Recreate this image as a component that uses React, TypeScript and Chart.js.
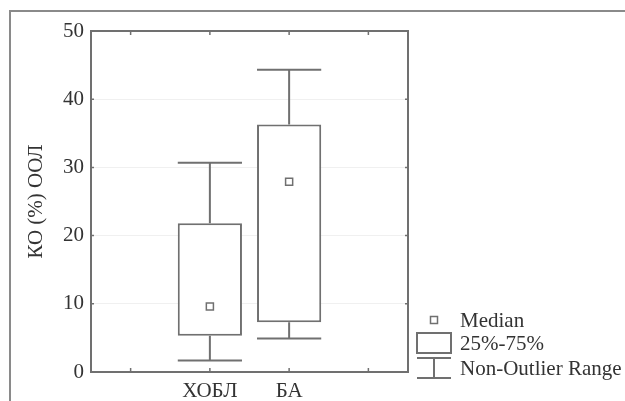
import React, { useEffect, useRef } from "react";
import { Chart, registerables } from "chart.js";

Chart.register(...registerables);

const categories = ["", "ХОБЛ", "БА", ""];
const q1 = [null, 5.3, 7.3, null];
const q3 = [null, 21.8, 36.3, null];
const medians = [null, 9.6, 27.9, null];
const whiskerLow = [null, 1.7, 4.9, null];
const whiskerHigh = [null, 30.7, 44.3, null];
const yTickValues = [0, 10, 20, 30, 40, 50];
const yTitle = "КО (%) ООЛ";
const legendLabels = ["Median", "25%-75%", "Non-Outlier Range"];

const LINE = "#707070";
const TEXT = "#333333";
const FONT = "Liberation Serif";

const boxPlugin = {
  id: "boxDecor",
  beforeDatasetsDraw(chart: any) {
    const { ctx } = chart;
    const y = chart.scales.y;
    const meta = chart.getDatasetMeta(0);
    ctx.save();
    ctx.strokeStyle = LINE;
    ctx.lineWidth = 2;
    meta.data.forEach((bar: any, i: number) => {
      if (whiskerLow[i] == null) return;
      const x = bar.x;
      const half = bar.width / 2;
      const yl = y.getPixelForValue(whiskerLow[i]);
      const yh = y.getPixelForValue(whiskerHigh[i]);
      const y1 = y.getPixelForValue(q1[i]);
      const y3 = y.getPixelForValue(q3[i]);
      ctx.beginPath();
      ctx.moveTo(x, y3);
      ctx.lineTo(x, yh);
      ctx.moveTo(x - half, yh);
      ctx.lineTo(x + half, yh);
      ctx.moveTo(x, y1);
      ctx.lineTo(x, yl);
      ctx.moveTo(x - half, yl);
      ctx.lineTo(x + half, yl);
      ctx.stroke();
    });
    ctx.restore();
  },
  afterDraw(chart: any) {
    const { ctx, chartArea: a } = chart;
    const xs = chart.scales.x;
    const ys = chart.scales.y;
    ctx.save();
    ctx.strokeStyle = "#8a8a8a";
    ctx.lineWidth = 2;
    ctx.beginPath();
    ctx.moveTo(10, 401);
    ctx.lineTo(10, 11);
    ctx.lineTo(625, 11);
    ctx.stroke();
    ctx.strokeStyle = LINE;
    ctx.lineWidth = 2;
    ctx.strokeRect(a.left, a.top, a.right - a.left, a.bottom - a.top);
    ctx.lineWidth = 1.5;
    ctx.beginPath();
    ys.ticks.forEach((_: any, i: number) => {
      const py = ys.getPixelForTick(i);
      ctx.moveTo(a.left, py);
      ctx.lineTo(a.left + 3, py);
      ctx.moveTo(a.right, py);
      ctx.lineTo(a.right - 3, py);
    });
    xs.ticks.forEach((_: any, i: number) => {
      const px = xs.getPixelForTick(i);
      ctx.moveTo(px, a.bottom);
      ctx.lineTo(px, a.bottom - 4);
      ctx.moveTo(px, a.top);
      ctx.lineTo(px, a.top + 4);
    });
    ctx.stroke();

    const lx = 417, rx = 451, cx = 434;
    ctx.strokeStyle = LINE;
    ctx.lineWidth = 1.5;
    ctx.strokeRect(cx - 3.5, 316.5, 7, 7);
    ctx.lineWidth = 2;
    ctx.strokeRect(lx, 333, rx - lx, 20);
    ctx.beginPath();
    ctx.moveTo(lx, 358);
    ctx.lineTo(rx, 358);
    ctx.moveTo(cx, 358);
    ctx.lineTo(cx, 378);
    ctx.moveTo(lx, 378);
    ctx.lineTo(rx, 378);
    ctx.stroke();
    ctx.fillStyle = TEXT;
    ctx.font = `21px "${FONT}"`;
    ctx.textBaseline = "alphabetic";
    ctx.textAlign = "left";
    ctx.fillText(legendLabels[0], 460, 327);
    ctx.fillText(legendLabels[1], 460, 350);
    ctx.fillText(legendLabels[2], 460, 375);
    ctx.restore();
  },
};

export default function App() {
  const ref = useRef<HTMLCanvasElement>(null);
  useEffect(() => {
    if (!ref.current) return;
    const chart = new Chart(ref.current, {
      type: "bar",
      data: {
        labels: categories,
        datasets: [
          {
            type: "bar",
            order: 2,
            data: categories.map((_, i) => (q1[i] == null ? null : [q1[i], q3[i]])) as any,
            backgroundColor: "#ffffff",
            borderColor: LINE,
            borderWidth: 2,
            borderSkipped: false,
            categoryPercentage: 1,
            barPercentage: 0.81,
          },
          {
            type: "line",
            order: 1,
            data: medians as any,
            showLine: false,
            pointStyle: "rect",
            pointRadius: 5,
            pointBorderWidth: 1.5,
            pointBorderColor: LINE,
            pointBackgroundColor: "#ffffff",
          } as any,
        ],
      },
      plugins: [boxPlugin],
      options: {
        animation: false,
        responsive: false,
        events: [],
        layout: { padding: { left: 0, top: 31, right: 217, bottom: 0 } },
        plugins: { legend: { display: false }, tooltip: { enabled: false } },
        scales: {
          x: {
            type: "category",
            offset: true,
            grid: { display: false, drawTicks: false },
            border: { display: false },
            ticks: { font: { family: FONT, size: 21 }, color: TEXT, padding: 7, maxRotation: 0 },
            afterFit(scale: any) {
              scale.height = 29;
            },
          },
          y: {
            min: 0,
            max: 50,
            afterBuildTicks(scale: any) {
              scale.ticks = yTickValues.map((v) => ({ value: v }));
            },
            grid: { color: "#f0f0f0", drawTicks: false, lineWidth: 1 },
            border: { display: false },
            ticks: { font: { family: FONT, size: 21 }, color: TEXT, padding: 7 },
            title: {
              display: true,
              text: yTitle,
              font: { family: FONT, size: 21 },
              color: TEXT,
              padding: { top: 24, bottom: 0 },
            },
            afterFit(scale: any) {
              scale.width = 91;
            },
          },
        },
      } as any,
    });
    return () => chart.destroy();
  }, []);
  return (
    <div style={{ position: "fixed", left: 0, top: 0, width: 625, height: 401, background: "#fff" }}>
      <canvas ref={ref} width={625} height={401} />
    </div>
  );
}
